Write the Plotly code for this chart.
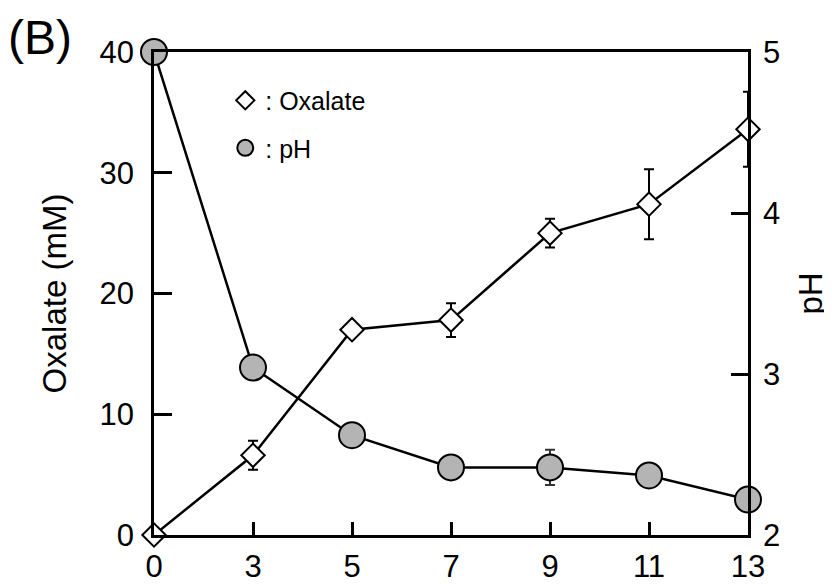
import plotly.graph_objects as go

days = ["0", "3", "5", "7", "9", "11", "13"]
oxalate = [0.0, 6.6, 17.0, 17.8, 25.0, 27.4, 33.6]
oxalate_err = [0.0, 1.2, 0.4, 1.4, 1.2, 2.9, 3.1]
ph = [5.0, 3.04, 2.62, 2.42, 2.42, 2.37, 2.22]
ph_err = [0.0, 0.03, 0.03, 0.03, 0.11, 0.04, 0.03]

FONT = "Liberation Sans, Arial, sans-serif"

fig = go.Figure()

fig.add_trace(go.Scatter(
    x=days, y=oxalate, mode="lines+markers", showlegend=False,
    line=dict(color="black", width=2.5),
    marker=dict(symbol="diamond", size=18, color="white",
                line=dict(color="black", width=2)),
    error_y=dict(type="data", array=oxalate_err, color="black",
                 thickness=2, width=5),
    cliponaxis=False, yaxis="y"))

fig.add_trace(go.Scatter(
    x=days, y=ph, mode="lines+markers", showlegend=False,
    line=dict(color="black", width=2.5),
    marker=dict(symbol="circle", size=26, color="#b4b4b4",
                line=dict(color="black", width=2)),
    error_y=dict(type="data", array=ph_err, color="#333333",
                 thickness=2, width=5),
    cliponaxis=False, yaxis="y2"))

# legend-only entries
fig.add_trace(go.Scatter(
    x=[None], y=[None], mode="markers", name=": Oxalate", legendgroup="a",
    marker=dict(symbol="diamond", size=14, color="white",
                line=dict(color="black", width=2))))
fig.add_trace(go.Scatter(
    x=[None], y=[None], mode="markers", name=": pH", legendgroup="b",
    marker=dict(symbol="circle", size=19, color="#b4b4b4",
                line=dict(color="black", width=2))))

fig.update_layout(
    width=824, height=579,
    margin=dict(l=146, r=84, t=44, b=52),
    paper_bgcolor="white", plot_bgcolor="white",
    font=dict(family=FONT, size=26, color="black"),
    showlegend=True,
    legend=dict(x=0.12, y=0.947, xanchor="left", yanchor="top",
                bgcolor="rgba(0,0,0,0)", font=dict(size=25),
                itemsizing="trace", itemwidth=30, tracegroupgap=12,
                traceorder="grouped"),
    xaxis=dict(type="category", categoryorder="array", categoryarray=days,
               range=[0, 6], showline=True, linecolor="black", linewidth=2.5,
               mirror=True, ticks="inside", ticklen=13, tickwidth=2.5,
               tickcolor="black", showgrid=False, zeroline=False,
               tickfont=dict(size=31), ticklabelstandoff=2, automargin=False),
    yaxis=dict(range=[0, 40], dtick=10, showline=True, linecolor="black",
               linewidth=2.5, ticks="inside", ticklen=18, tickwidth=2.5,
               tickcolor="black", showgrid=False, zeroline=False,
               tickfont=dict(size=31), ticklabelstandoff=11, automargin=False,
               title=dict(text="Oxalate (mM)", font=dict(size=33), standoff=24)),
    yaxis2=dict(range=[2, 5], dtick=1, overlaying="y", side="right",
                showline=True, linecolor="black", linewidth=2.5,
                ticks="inside", ticklen=17, tickwidth=2.5, tickcolor="black",
                showgrid=False, zeroline=False, tickfont=dict(size=31),
                ticklabelstandoff=6, automargin=False,
                title=dict(text="pH", font=dict(size=33), standoff=20)),
    annotations=[dict(text="(B)", xref="paper", yref="paper",
                      x=-0.25, y=1.088, xanchor="left", yanchor="top",
                      showarrow=False, font=dict(size=48))],
)

fig.write_html("out.html")
